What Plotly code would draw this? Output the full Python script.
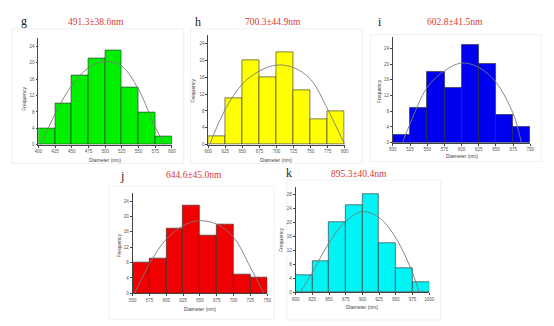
import plotly.graph_objects as go

# ---- particle-size histograms (bin width 25 nm) ----
BIN_W = 25

g_start = 400
g_counts = [4, 10, 17, 21, 23, 14, 8, 2]
g_fit_x = [404, 425, 450, 475, 500, 525, 550, 575, 589]
g_fit_y = [0, 7.5, 14.5, 18.8, 20.4, 19.2, 13.5, 4.3, 0]

h_start = 600
h_counts = [2, 11, 20, 16, 22, 13, 6, 8]
h_fit_x = [602, 625, 650, 675, 700, 725, 750, 775, 800]
h_fit_y = [0, 8.4, 14.4, 17.5, 18.9, 18.3, 15.5, 8.4, 0]

i_start = 500
i_counts = [2, 9, 18, 14, 25, 20, 7, 4]
i_fit_x = [514, 525, 550, 575, 600, 625, 650, 675, 687]
i_fit_y = [0, 4.8, 14.1, 18.3, 20.3, 19.2, 15.4, 7.4, 0]

j_start = 550
j_counts = [8, 9, 17, 23, 15, 18, 5, 4]
j_fit_x = [553, 575, 600, 625, 648, 675, 700, 725, 745]
j_fit_y = [0, 7.7, 14.1, 17.6, 18.9, 18.0, 14.6, 6.8, 0]

k_start = 800
k_counts = [5, 9, 20, 25, 28, 14, 7, 3]
k_fit_x = [807, 825, 850, 875, 900, 925, 950, 975, 985]
k_fit_y = [0, 5.6, 14.1, 20.2, 23.0, 21.3, 15.5, 5.6, 0]

letters = ["g", "h", "i", "j", "k"]
titles = ["491.3\u00b138.6nm", "700.3\u00b144.9nm", "602.8\u00b141.5nm",
          "644.6\u00b145.0nm", "895.3\u00b140.4nm"]
bar_colors = ["#00f000", "#ffff00", "#0000f0", "#f00000", "#00f4f4"]
y_tops = [26, 26, 27, 26, 30]

W, H = 554, 326

# layout in pixels: plot box (x0, x1, ybottom, ytop), letter pos, title pos,
# y-title pos, x-title y, frame box
panels = [
    dict(box=(35, 171, 146, 38.75), letter=(20, 21), title=(94, 22),
         ytitle=(20, 100), xtitle_y=161, frame=(8, 183, 29, 165)),
    dict(box=(208, 347, 146, 35.5), letter=(198, 22), title=(274, 22),
         ytitle=(193, 92), xtitle_y=161, frame=(190, 365, 29, 165)),
    dict(box=(396, 536, 144, 37.1), letter=(383, 22), title=(459, 22),
         ytitle=(382, 92), xtitle_y=157, frame=(373, 547, 35, 163)),
    dict(box=(131, 268, 296, 195.25), letter=(120, 178), title=(194, 177),
         ytitle=(117, 248), xtitle_y=312, frame=(107, 275, 188, 322)),
    dict(box=(297, 433, 295, 188.8), letter=(290, 175), title=(362, 176),
         ytitle=(282, 242), xtitle_y=310, frame=(288, 445, 182, 323)),
]

starts = [g_start, h_start, i_start, j_start, k_start]
counts = [g_counts, h_counts, i_counts, j_counts, k_counts]
fits = [(g_fit_x, g_fit_y), (h_fit_x, h_fit_y), (i_fit_x, i_fit_y),
        (j_fit_x, j_fit_y), (k_fit_x, k_fit_y)]


def fx(px):
    return px / W


def fy(py):
    return 1 - py / H


def label(px, py, text, size, family, color, angle=0):
    return dict(x=fx(px), y=fy(py), xref="paper", yref="paper", text=text,
                xanchor="center", yanchor="middle", textangle=angle,
                showarrow=False, font=dict(size=size, family=family, color=color))


fig = go.Figure()
annotations = []
shapes = []
sans = "Liberation Sans"
serif = "Liberation Serif"

for n, p in enumerate(panels):
    ax = "" if n == 0 else str(n + 1)
    xref, yref = "x" + ax, "y" + ax
    start = starts[n]
    cnt = counts[n]
    edges = [start + BIN_W * k for k in range(len(cnt) + 1)]
    centers = [e + BIN_W / 2 for e in edges[:-1]]

    fig.add_trace(go.Bar(
        x=centers, y=cnt, width=BIN_W, xaxis=xref, yaxis=yref,
        marker=dict(color=bar_colors[n], line=dict(color="#2a2a2a", width=0.6)),
        showlegend=False, hoverinfo="x+y"))
    fig.add_trace(go.Scatter(
        x=fits[n][0], y=fits[n][1], xaxis=xref, yaxis=yref, mode="lines",
        line=dict(color="#7a7a7a", width=0.9, shape="spline"),
        showlegend=False, hoverinfo="skip"))

    x0, x1, yb, yt = p["box"]
    fig.layout["xaxis" + ax] = dict(
        domain=[fx(x0), fx(x1)], range=[edges[0], edges[-1]], anchor=yref,
        tickvals=edges, ticktext=[str(e) for e in edges],
        tickfont=dict(size=4.5, family=sans, color="#555"),
        ticks="outside", ticklen=2, tickwidth=0.6, tickcolor="#444",
        showline=True, linecolor="#444", linewidth=0.7,
        showgrid=False, zeroline=False, fixedrange=True)
    fig.layout["yaxis" + ax] = dict(
        domain=[fy(yb), fy(yt)], range=[0, y_tops[n]], anchor=xref,
        tickmode="linear", tick0=0, dtick=4,
        tickfont=dict(size=4.5, family=sans, color="#555"),
        ticks="outside", ticklen=2, tickwidth=0.6, tickcolor="#444",
        showline=True, linecolor="#444", linewidth=0.7,
        showgrid=False, zeroline=False, fixedrange=True)

    fl, fr, ft, fb = p["frame"]
    shapes.append(dict(type="rect", xref="paper", yref="paper",
                       x0=fx(fl), x1=fx(fr), y0=fy(fb), y1=fy(ft),
                       line=dict(color="#ececec", width=0.8), layer="below"))

    annotations.append(label(*p["letter"], letters[n], 12, serif, "#222"))
    annotations.append(label(*p["title"], titles[n], 9.5, serif, "#d63a3a"))
    annotations.append(label(*p["ytitle"], "Frequency", 5, sans, "#444", angle=-90))
    annotations.append(label((x0 + x1) / 2, p["xtitle_y"], "Diameter (nm)", 5, sans, "#444"))

fig.update_layout(
    width=W, height=H, margin=dict(l=0, r=0, t=0, b=0),
    paper_bgcolor="white", plot_bgcolor="white",
    bargap=0, annotations=annotations, shapes=shapes)

fig.write_html("out.html")
